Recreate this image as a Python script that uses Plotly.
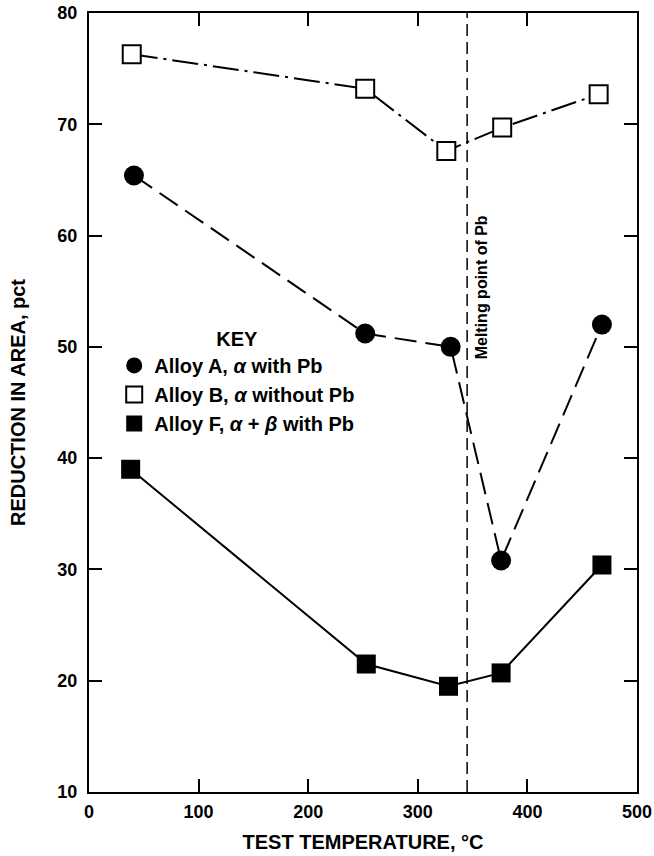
import plotly.graph_objects as go

# Data
temps_a = [41, 252, 330, 376, 468]
alloy_a = [65.4, 51.2, 50.0, 30.8, 52.0]

temps_b = [39, 252, 326, 377, 465]
alloy_b = [76.3, 73.2, 67.6, 69.7, 72.7]

temps_f = [38, 253, 328, 376, 468]
alloy_f = [39.0, 21.5, 19.5, 20.7, 30.4]

melt_x = 345
melt_label = "Melting point of Pb"

x_ticks = [0, 100, 200, 300, 400, 500]
y_ticks = [10, 20, 30, 40, 50, 60, 70, 80]

names = ["Alloy A, <i>α</i> with Pb", "Alloy B, <i>α</i> without Pb", "Alloy F, <i>α</i> + <i>β</i> with Pb"]

FONT = "Liberation Sans"
fig = go.Figure()

# lines
fig.add_trace(go.Scatter(x=temps_b, y=alloy_b, mode="lines",
                         line=dict(color="black", width=2, dash="26px,6px,3px,6px"), showlegend=False))
fig.add_trace(go.Scatter(x=temps_a, y=alloy_a, mode="lines",
                         line=dict(color="black", width=2, dash="22px,9px"), showlegend=False))
fig.add_trace(go.Scatter(x=temps_f, y=alloy_f, mode="lines",
                         line=dict(color="black", width=2), showlegend=False))

# markers (also legend entries)
fig.add_trace(go.Scatter(x=temps_a, y=alloy_a, mode="markers", name=names[0],
                         marker=dict(symbol="circle", size=20, color="black", line=dict(width=0))))
fig.add_trace(go.Scatter(x=temps_b, y=alloy_b, mode="markers", name=names[1],
                         marker=dict(symbol="square", size=18, color="white", line=dict(color="black", width=2))))
fig.add_trace(go.Scatter(x=temps_f, y=alloy_f, mode="markers", name=names[2],
                         marker=dict(symbol="square", size=19, color="black", line=dict(width=0))))

fig.add_vline(x=melt_x, line=dict(color="black", width=1.5, dash="12px,6px"))
fig.add_annotation(x=melt_x, y=0.648, xref="x", yref="paper", text="<b>" + melt_label + "</b>",
                   textangle=-90, showarrow=False, xshift=14,
                   font=dict(family=FONT, size=16, color="black"))

axis_common = dict(showgrid=False, zeroline=False, showline=True, linecolor="black", linewidth=2,
                   mirror="ticks", ticks="inside", ticklen=13, tickwidth=1.5, tickcolor="black",
                   automargin=False, ticklabeloverflow="allow",
                   tickfont=dict(family=FONT, size=18, color="black", weight="bold"))

fig.update_xaxes(range=[0, 500], tickvals=x_ticks, ticklabelstandoff=2, **axis_common,
                 title=dict(text="<b>TEST TEMPERATURE, °C</b>", standoff=14,
                            font=dict(family=FONT, size=20, color="black")))
fig.update_yaxes(range=[10, 80], tickvals=y_ticks, ticklabelstandoff=6, **axis_common,
                 title=dict(text="<b>REDUCTION IN AREA, pct</b>", standoff=26,
                            font=dict(family=FONT, size=20, color="black")))

fig.update_layout(
    width=654, height=856,
    margin=dict(l=89, r=17, t=13, b=64),
    paper_bgcolor="white", plot_bgcolor="white",
    legend=dict(x=0.046, y=0.606, xanchor="left", yanchor="top", bgcolor="rgba(0,0,0,0)",
                title=dict(text="<b>KEY</b>", side="top center",
                           font=dict(family=FONT, size=20, color="black")),
                font=dict(family=FONT, size=20, color="black", weight="bold"),
                itemsizing="trace"),
    font=dict(family=FONT, color="black"),
)

fig.write_html("out.html", config={"displayModeBar": False},
               post_script="document.body.style.margin='0';document.body.style.overflow='hidden';")
